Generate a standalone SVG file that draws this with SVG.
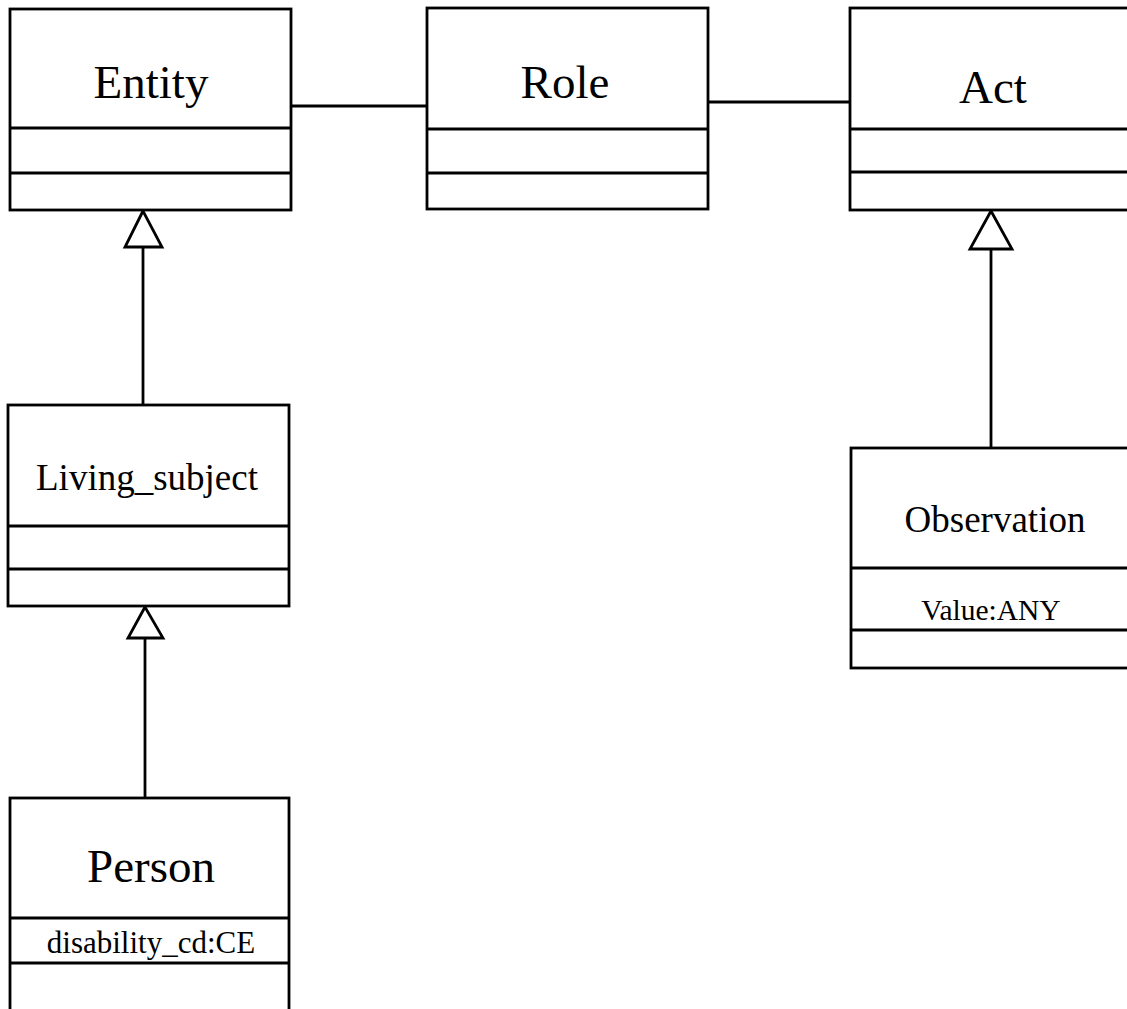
<svg xmlns="http://www.w3.org/2000/svg" width="1127" height="1009" viewBox="0 0 1127 1009">
<style>
.box{fill:#fff;stroke:#000;stroke-width:2.8}
.div{stroke:#000;stroke-width:3}
.t{font-family:"Liberation Serif",serif;fill:#000;text-anchor:middle}
.c{stroke:#000;stroke-width:2.8;fill:none}
.tri{fill:#fff;stroke:#000;stroke-width:2.8;stroke-linejoin:miter}
</style>
<rect width="1127" height="1009" fill="#fff"/>
<g id="connectors">
<line class="c" x1="292" y1="106" x2="427" y2="106"/>
<line class="c" x1="708" y1="102" x2="850" y2="102"/>
<line class="c" x1="143" y1="247" x2="143" y2="405"/>
<polygon class="tri" points="143,211 125,247 162,247"/>
<line class="c" x1="991" y1="249" x2="991" y2="448"/>
<polygon class="tri" points="991,211 970,249 1012,249"/>
<line class="c" x1="145" y1="638" x2="145" y2="798"/>
<polygon class="tri" points="145,607 128,638 163,638"/>
</g>
<g id="entity">
<rect class="box" x="10" y="9" width="281" height="201"/>
<line class="div" x1="10" y1="128" x2="291" y2="128"/>
<line class="div" x1="10" y1="173" x2="291" y2="173"/>
<text class="t" x="151" y="98" font-size="47">Entity</text>
</g>
<g id="role">
<rect class="box" x="427" y="8" width="281" height="201"/>
<line class="div" x1="427" y1="129" x2="708" y2="129"/>
<line class="div" x1="427" y1="173" x2="708" y2="173"/>
<text class="t" x="565" y="98" font-size="47">Role</text>
</g>
<g id="act">
<rect class="box" x="850" y="8" width="290" height="202"/>
<line class="div" x1="850" y1="129" x2="1140" y2="129"/>
<line class="div" x1="850" y1="172" x2="1140" y2="172"/>
<text class="t" x="993" y="103" font-size="47">Act</text>
</g>
<g id="living_subject">
<rect class="box" x="8" y="405" width="281" height="201"/>
<line class="div" x1="8" y1="526" x2="289" y2="526"/>
<line class="div" x1="8" y1="569" x2="289" y2="569"/>
<text class="t" x="147" y="490" font-size="37">Living_subject</text>
</g>
<g id="observation">
<rect class="box" x="851" y="448" width="290" height="220"/>
<line class="div" x1="851" y1="568" x2="1141" y2="568"/>
<line class="div" x1="851" y1="630" x2="1141" y2="630"/>
<text class="t" x="995" y="532" font-size="37">Observation</text>
<text class="t" x="991" y="620" font-size="29.5">Value:ANY</text>
</g>
<g id="person">
<rect class="box" x="10" y="798" width="279" height="230"/>
<line class="div" x1="10" y1="918" x2="289" y2="918"/>
<line class="div" x1="10" y1="963" x2="289" y2="963"/>
<text class="t" x="151" y="882" font-size="47">Person</text>
<text class="t" x="151" y="953" font-size="31">disability_cd:CE</text>
</g>
</svg>
